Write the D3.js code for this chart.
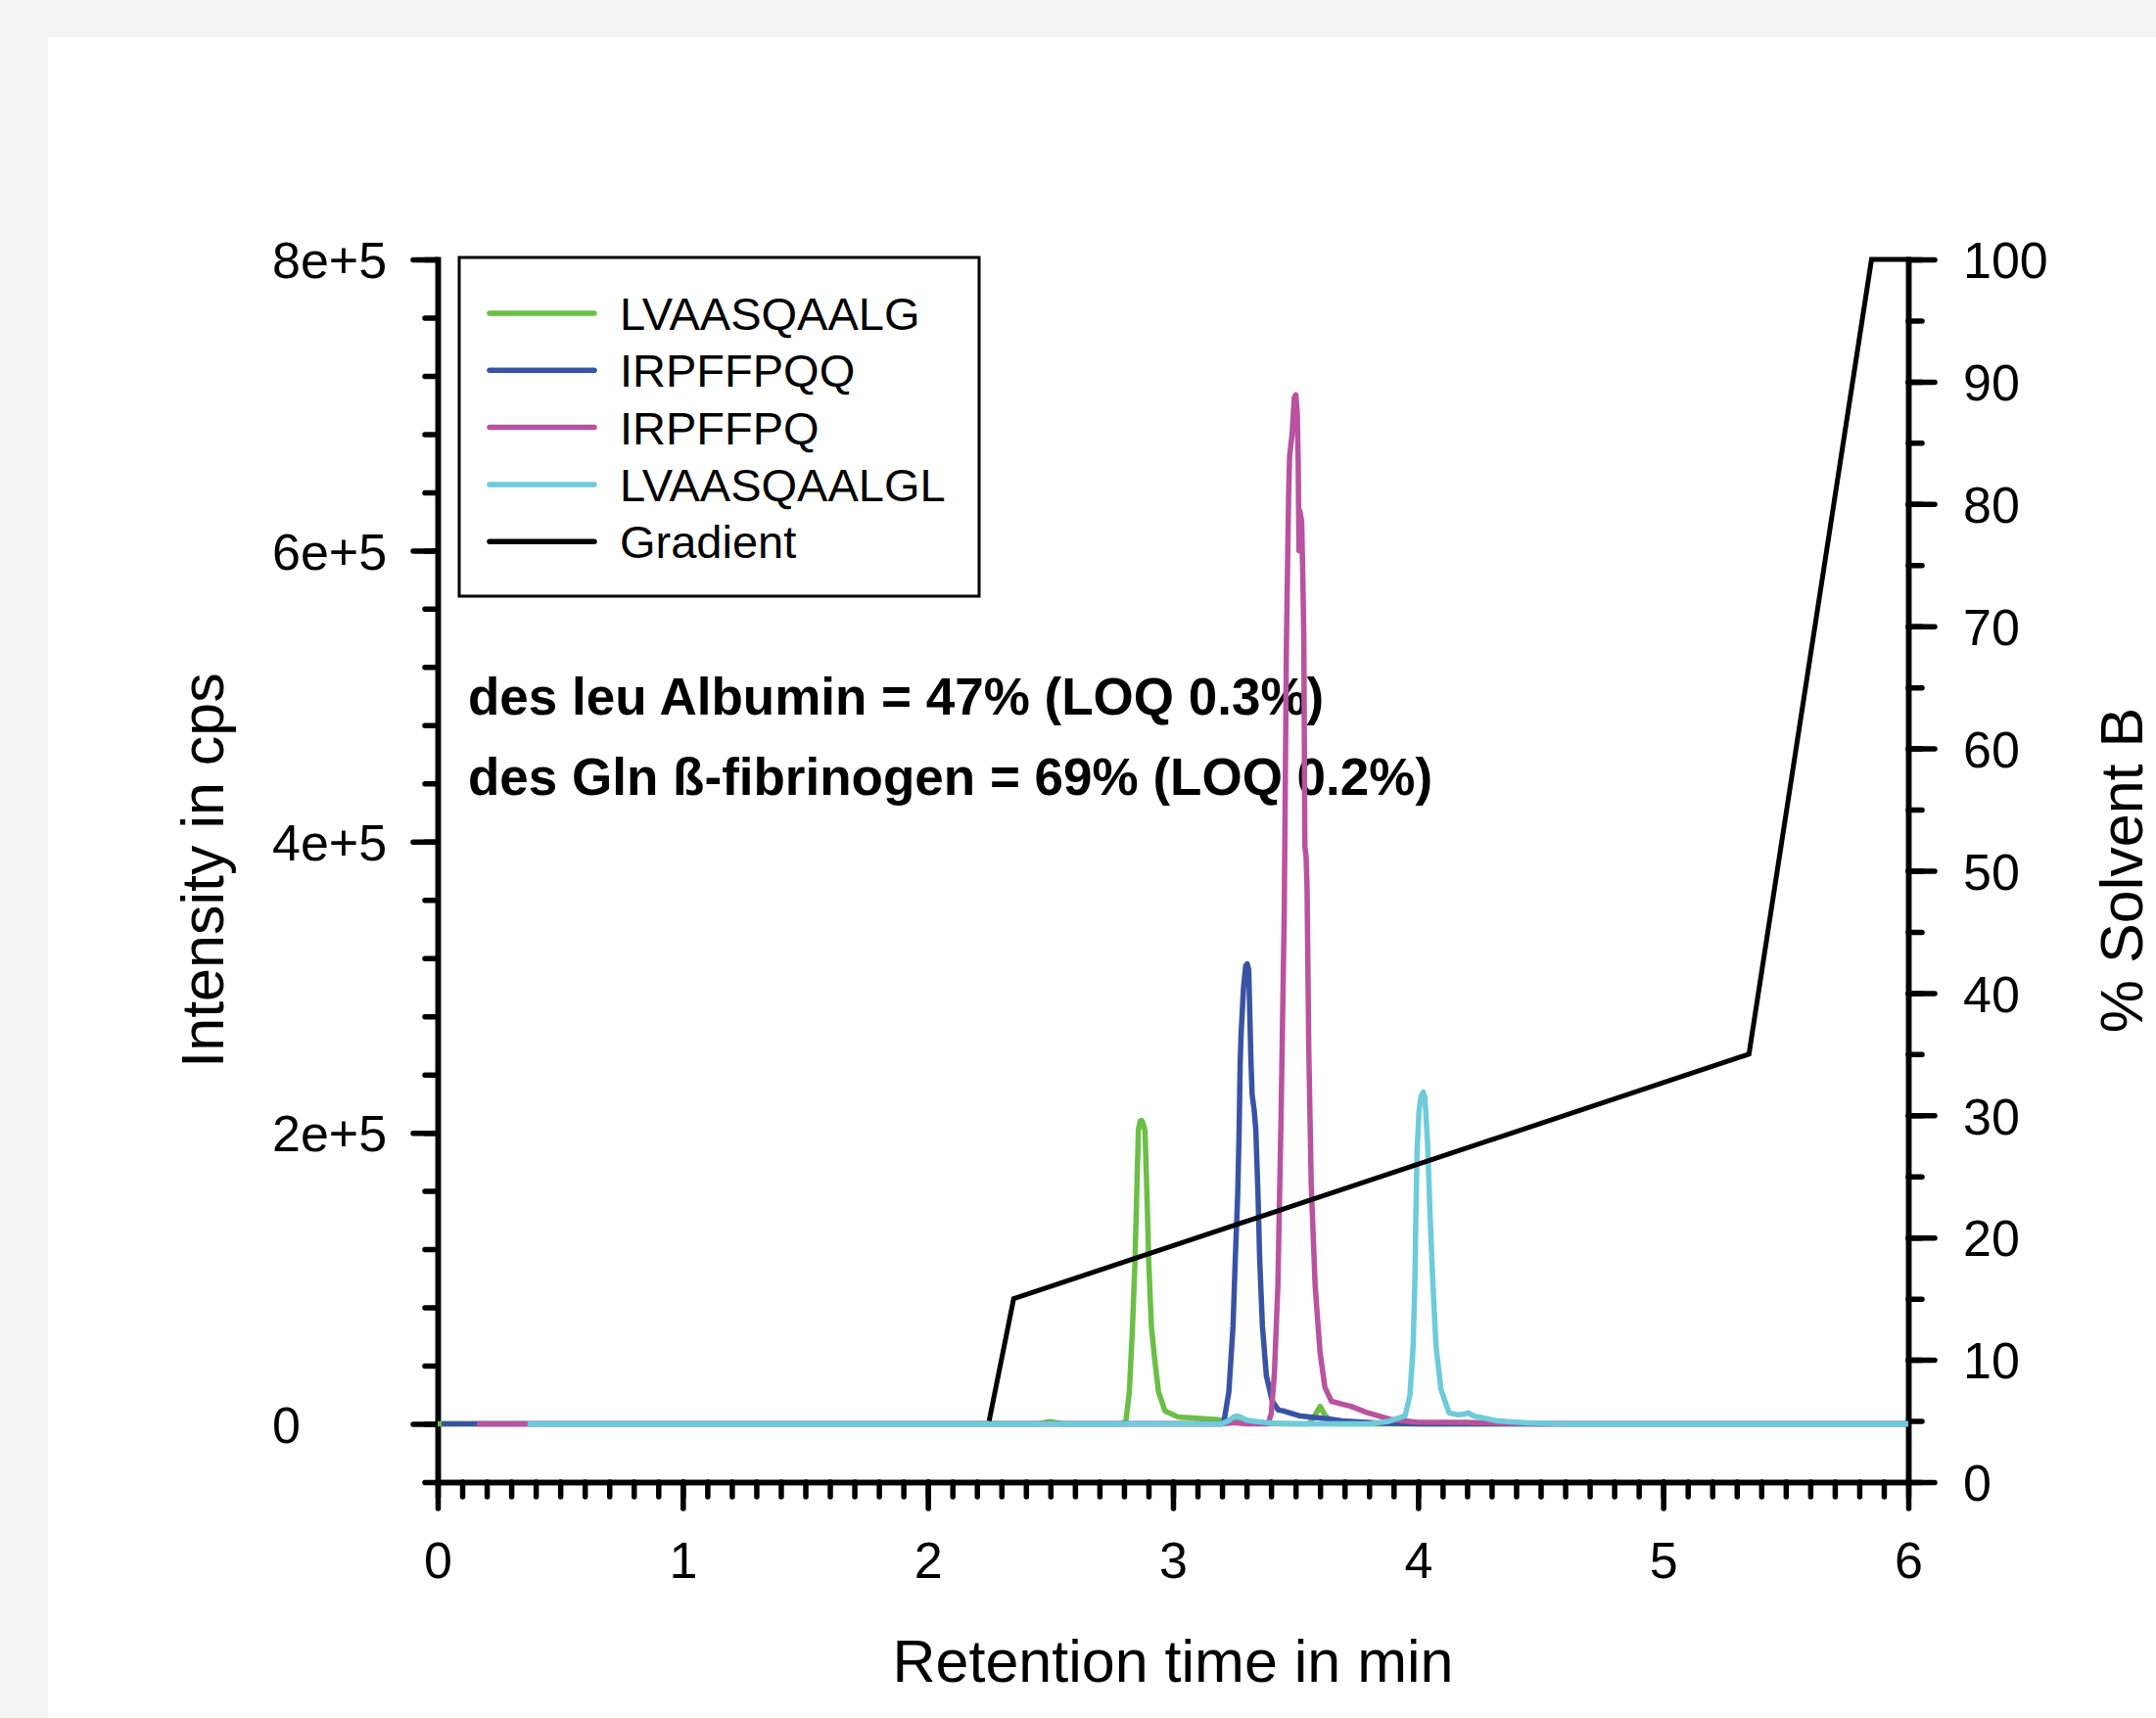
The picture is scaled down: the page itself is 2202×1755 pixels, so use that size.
<!DOCTYPE html>
<html>
<head>
<meta charset="utf-8">
<script src="https://cdn.jsdelivr.net/npm/d3@7"></script>
<style>
  body { margin: 0; background: #f4f4f4; }
  svg { display: block; }
  text { font-family: "Liberation Sans", Arial, Helvetica, sans-serif; }
</style>
</head>
<body>
<svg id="chart" width="2202" height="1755"></svg>
<script>

// ---- data: [time in min, intensity in cps] ----
var seriesNames = ['LVAASQAALG', 'IRPFFPQQ', 'IRPFFPQ', 'LVAASQAALGL', 'Gradient'];
var seriesColors = ['#6cbf46', '#3953a4', '#b9529f', '#6dcbdb', '#000000'];

var lvaasqaalg = [[0, 0], [2.45, 0], [2.5, 1500], [2.55, 0], [2.79, 0], [2.808, 2000], [2.822, 22000],
  [2.835, 67000], [2.845, 112000], [2.852, 157000], [2.859, 202000], [2.866, 208000], [2.872, 208500],
  [2.879, 206000], [2.886, 201000], [2.894, 157000], [2.901, 112000], [2.912, 67000], [2.925, 45000],
  [2.941, 22000], [2.968, 8700], [3.021, 4700], [3.168, 3100], [3.25, 2000], [3.33, 500], [3.45, 0],
  [3.554, 0], [3.58, 6000], [3.6, 12000], [3.62, 6000], [3.654, 0], [6, 0]];

var irpffpqq = [[0.016, 0], [3.2, 0], [3.208, 1500], [3.228, 22000], [3.245, 67000], [3.254, 112000],
  [3.264, 157000], [3.27, 202000], [3.274, 247000], [3.278, 268000], [3.288, 300000], [3.297, 315000],
  [3.303, 316000], [3.309, 312000], [3.313, 285000], [3.318, 250000], [3.323, 226000], [3.331, 216000],
  [3.338, 202000], [3.347, 157000], [3.354, 112000], [3.365, 67000], [3.381, 33000], [3.405, 15700],
  [3.43, 9500], [3.447, 9000], [3.514, 5600], [3.567, 4500], [3.63, 3500], [3.69, 2000], [3.84, 500],
  [4.0, 0], [6, 0]];

var irpffpq = [[0.16, 0], [3.2, 0], [3.25, 800], [3.3, 0], [3.388, 0], [3.401, 7000], [3.414, 35000],
  [3.428, 95000], [3.441, 211000], [3.454, 351000], [3.463, 537000], [3.472, 640000], [3.476, 665000],
  [3.486, 680000], [3.495, 705000], [3.501, 707000], [3.507, 695000], [3.511, 660000], [3.514, 600000],
  [3.518, 627000], [3.525, 620000], [3.53, 580000], [3.534, 537000], [3.538, 397000], [3.543, 390000],
  [3.547, 369000], [3.554, 258000], [3.564, 165000], [3.58, 95000], [3.6, 49000], [3.62, 25000],
  [3.647, 15500], [3.69, 13500], [3.727, 12000], [3.794, 7600], [3.887, 3100], [3.994, 1200],
  [4.193, 1000], [4.353, 300], [4.5, 0], [6, 0]];

var lvaasqaalgl = [[0.367, 0], [3.2, 0], [3.23, 2500], [3.25, 5000], [3.261, 5400], [3.28, 4500],
  [3.3, 2500], [3.345, 1500], [3.4, 500], [3.5, 0], [3.8, 0], [3.874, 1500], [3.947, 5400],
  [3.967, 20000], [3.98, 54000], [3.987, 98000], [3.991, 143000], [3.996, 188000], [4.004, 215000],
  [4.012, 225000], [4.021, 228000], [4.028, 224000], [4.033, 210000], [4.04, 188000], [4.049, 143000],
  [4.06, 98000], [4.073, 54000], [4.093, 24000], [4.126, 7600], [4.16, 6300], [4.185, 6500],
  [4.206, 7600], [4.225, 5500], [4.246, 4700], [4.326, 2000], [4.46, 500], [4.6, 0], [6, 0]];

// [time in min, % solvent B]
var gradient = [[2.25, 5], [2.35, 15], [5.35, 35], [5.85, 100], [6, 100]];

var intensityTicks = [0, 200000, 400000, 600000, 800000];
var intensityLabels = ['0', '2e+5', '4e+5', '6e+5', '8e+5'];
var solventTicks = [0, 10, 20, 30, 40, 50, 60, 70, 80, 90, 100];
var timeTicks = [0, 1, 2, 3, 4, 5, 6];

var annotations = ['des leu Albumin = 47% (LOQ 0.3%)', 'des Gln \u00df-fibrinogen = 69% (LOQ 0.2%)'];

// ---- set up ----
var svg = d3.select('#chart');

svg.append('rect')
  .attr('x', 49).attr('y', 38)
  .attr('width', 2202 - 49).attr('height', 1755 - 38)
  .attr('fill', '#ffffff');

var x = d3.scaleLinear().domain([0, 6]).range([447, 1949]);
var yI = d3.scaleLinear().domain([-40000, 800000]).range([1514, 265]);
var yB = d3.scaleLinear().domain([0, 100]).range([1514, 265]);

function styleAxis(g) {
  g.attr('font-family', null);
  g.select('.domain').attr('stroke', '#000').attr('stroke-width', 5.5).attr('stroke-linecap', 'square');
  g.selectAll('.tick line').attr('stroke', '#000').attr('stroke-width', 5.5).attr('stroke-linecap', 'round');
  g.selectAll('.tick text').attr('fill', '#000').attr('font-size', 52);
}

// left axis (intensity)
svg.append('g')
  .attr('transform', 'translate(447,0)')
  .call(d3.axisLeft(yI).tickValues(d3.range(-40000, 800001, 40000)).tickSize(13).tickSizeOuter(0).tickFormat(''))
  .call(styleAxis);

svg.append('g')
  .attr('transform', 'translate(447,0)')
  .call(d3.axisLeft(yI).tickValues(intensityTicks).tickSize(25).tickSizeOuter(0)
    .tickFormat((d, i) => intensityLabels[i]))
  .call(styleAxis)
  .call(g => g.selectAll('.tick text')
    .attr('text-anchor', 'start')
    .attr('x', 278 - 447)
    .attr('dy', '0.36em'));

// right axis (% solvent B)
svg.append('g')
  .attr('transform', 'translate(1949,0)')
  .call(d3.axisRight(yB).tickValues(d3.range(0, 101, 5)).tickSize(14).tickSizeOuter(0).tickFormat(''))
  .call(styleAxis);

svg.append('g')
  .attr('transform', 'translate(1949,0)')
  .call(d3.axisRight(yB).tickValues(solventTicks).tickSize(27).tickSizeOuter(0).tickFormat(d3.format('d')))
  .call(styleAxis)
  .call(g => g.selectAll('.tick text')
    .attr('text-anchor', 'start')
    .attr('x', 2005 - 1949)
    .attr('dy', '0.36em'));

// bottom axis (time)
svg.append('g')
  .attr('transform', 'translate(0,1514)')
  .call(d3.axisBottom(x).tickValues(d3.range(0, 61).map(i => i / 10)).tickSize(15).tickSizeOuter(0).tickFormat(''))
  .call(styleAxis);

svg.append('g')
  .attr('transform', 'translate(0,1514)')
  .call(d3.axisBottom(x).tickValues(timeTicks).tickSize(27).tickSizeOuter(0).tickFormat(d3.format('d')))
  .call(styleAxis)
  .call(g => g.selectAll('.tick text')
    .attr('y', 98)
    .attr('dy', 0));

// axis titles
svg.append('text')
  .attr('x', 1198).attr('y', 1718)
  .attr('text-anchor', 'middle')
  .attr('font-size', 61)
  .text('Retention time in min');

svg.append('text')
  .attr('transform', 'translate(228,889) rotate(-90)')
  .attr('text-anchor', 'middle')
  .attr('font-size', 61)
  .text('Intensity in cps');

svg.append('text')
  .attr('transform', 'translate(2188,889) rotate(-90)')
  .attr('text-anchor', 'middle')
  .attr('font-size', 61)
  .text('% Solvent B');

// annotation (drawn under the traces)
svg.selectAll('.note')
  .data(annotations)
  .enter().append('text')
  .attr('class', 'note')
  .attr('x', 478)
  .attr('y', (d, i) => 730 + i * 82)
  .attr('font-size', 53)
  .attr('font-weight', 'bold')
  .text(d => d);

// traces
var line = d3.line()
  .x(d => x(d[0]))
  .y(d => yI(d[1]));

var traces = [lvaasqaalg, irpffpqq, irpffpq, lvaasqaalgl];

svg.selectAll('.trace')
  .data(traces)
  .enter().append('path')
  .attr('class', 'trace')
  .attr('d', line)
  .attr('fill', 'none')
  .attr('stroke', (d, i) => seriesColors[i])
  .attr('stroke-width', 5.5)
  .attr('stroke-linejoin', 'round');

// gradient on the right axis
var gradLine = d3.line()
  .x(d => x(d[0]))
  .y(d => yB(d[1]));

svg.append('path')
  .attr('d', gradLine(gradient))
  .attr('fill', 'none')
  .attr('stroke', '#000')
  .attr('stroke-width', 5)
  .attr('stroke-linejoin', 'miter');

// legend
var legend = svg.append('g');

legend.append('rect')
  .attr('x', 469).attr('y', 263)
  .attr('width', 531).attr('height', 346)
  .attr('fill', '#fff')
  .attr('stroke', '#000')
  .attr('stroke-width', 3);

var items = legend.selectAll('.item')
  .data(seriesNames)
  .enter().append('g')
  .attr('class', 'item')
  .attr('transform', (d, i) => `translate(0, ${320 + i * 58.3})`);

items.append('line')
  .attr('x1', 500).attr('x2', 607)
  .attr('stroke', (d, i) => seriesColors[i])
  .attr('stroke-width', 5.5)
  .attr('stroke-linecap', 'round');

items.append('text')
  .attr('x', 633).attr('y', 17)
  .attr('font-size', 47)
  .text(d => d);

</script>
</body>
</html>
